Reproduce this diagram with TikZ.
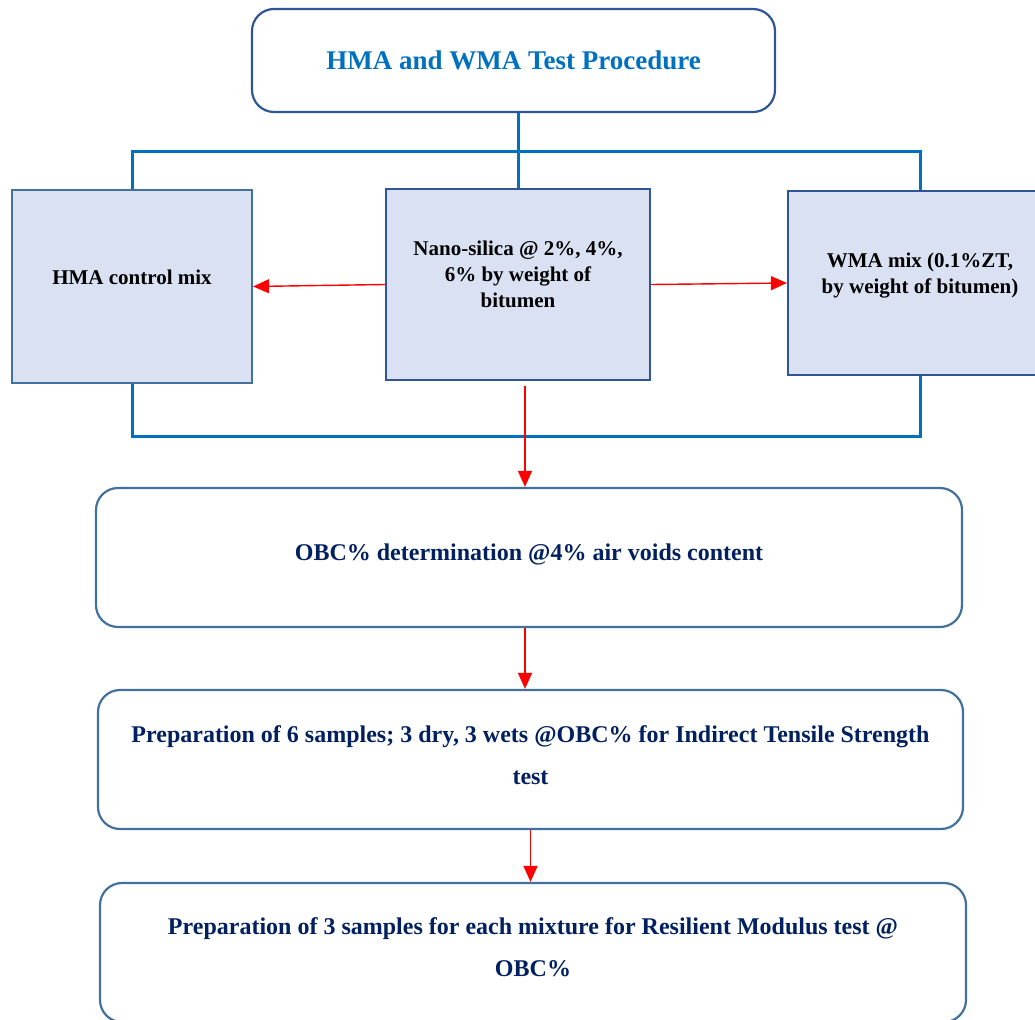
\documentclass[tikz,border=0pt]{standalone}
\usepackage{fontspec}
\setmainfont{Liberation Serif}
\usetikzlibrary{arrows.meta, positioning}
\definecolor{titleblue}{HTML}{0070C0}
\definecolor{boxfill}{HTML}{DAE1F3}
\definecolor{edgeblue}{HTML}{41719C}
\definecolor{edgedark}{HTML}{2F5597}
\definecolor{navy}{HTML}{002060}

\begin{document}
\begin{tikzpicture}[
    x=1pt, y=-1pt,
    roundbox/.style={rectangle, rounded corners=22pt, draw=edgeblue, line width=2.2pt, fill=white, align=center, font=\bfseries\fontsize{24}{42}\selectfont, text=navy},
    mixbox/.style={rectangle, draw=edgedark, line width=2.2pt, fill=boxfill, align=center, font=\bfseries\fontsize{21}{26}\selectfont},
    bus/.style={draw=titleblue, line width=3pt},
    arrow/.style={-{Triangle[length=16pt, width=14pt]}, draw=red, fill=red, line width=1.4pt}
]

\useasboundingbox (0,0) rectangle (1035,1019);
\clip (0,0) rectangle (1035,1019);

\node[roundbox, draw=edgedark, minimum width=523pt, minimum height=103pt, text=titleblue, font=\bfseries\fontsize{27}{30}\selectfont] (title) at (513.5,60.5) {HMA and WMA Test Procedure};

\node[mixbox, draw=edgeblue, minimum width=240pt, minimum height=193pt, text depth=18pt] (hma) at (132,286.5) {HMA control mix};
\node[mixbox, minimum width=264pt, minimum height=191pt, text depth=20pt] (nano) at (518,284.5) {Nano-silica @ 2\%, 4\%,\\6\% by weight of\\bitumen};
\node[mixbox, minimum width=264pt, minimum height=184pt, text depth=20pt] (wma) at (920,283) {WMA mix (0.1\%ZT,\\by weight of bitumen)};

\node[roundbox, minimum width=866pt, minimum height=139pt, text depth=10pt] (obc) at (529,557.5) {OBC\% determination @4\% air voids content};
\node[roundbox, minimum width=865pt, minimum height=139pt, text depth=9pt] (its) at (530.5,759.5) {Preparation of 6 samples; 3 dry, 3 wets @OBC\% for Indirect Tensile Strength\\test};
\node[roundbox, minimum width=866pt, minimum height=139pt, text depth=10pt] (mr) at (533,952.5) {Preparation of 3 samples for each mixture for Resilient Modulus test @\\OBC\%};

\coordinate (bustop) at (0,152);
\coordinate (busbot) at (0,436);

\draw[bus] (nano.north |- title.south) -- (nano.north);
\draw[bus] (hma.north) -- (hma.north |- bustop) -- (wma.north |- bustop) -- (wma.north);
\draw[bus] (hma.south) -- (hma.south |- busbot) -- (wma.south |- busbot) -- (wma.south);

\draw[arrow] (nano.west) -- (hma.east);
\draw[arrow] (nano.east) -- (wma.west);
\draw[arrow] (nano.south -| obc.north) ++(-4,5) -- ([xshift=-4pt]obc.north);
\draw[arrow] ([xshift=-4pt]obc.south) -- ([xshift=-4pt]obc.south |- its.north);
\draw[arrow] (its.south) -- (its.south |- mr.north);

\end{tikzpicture}
\end{document}
